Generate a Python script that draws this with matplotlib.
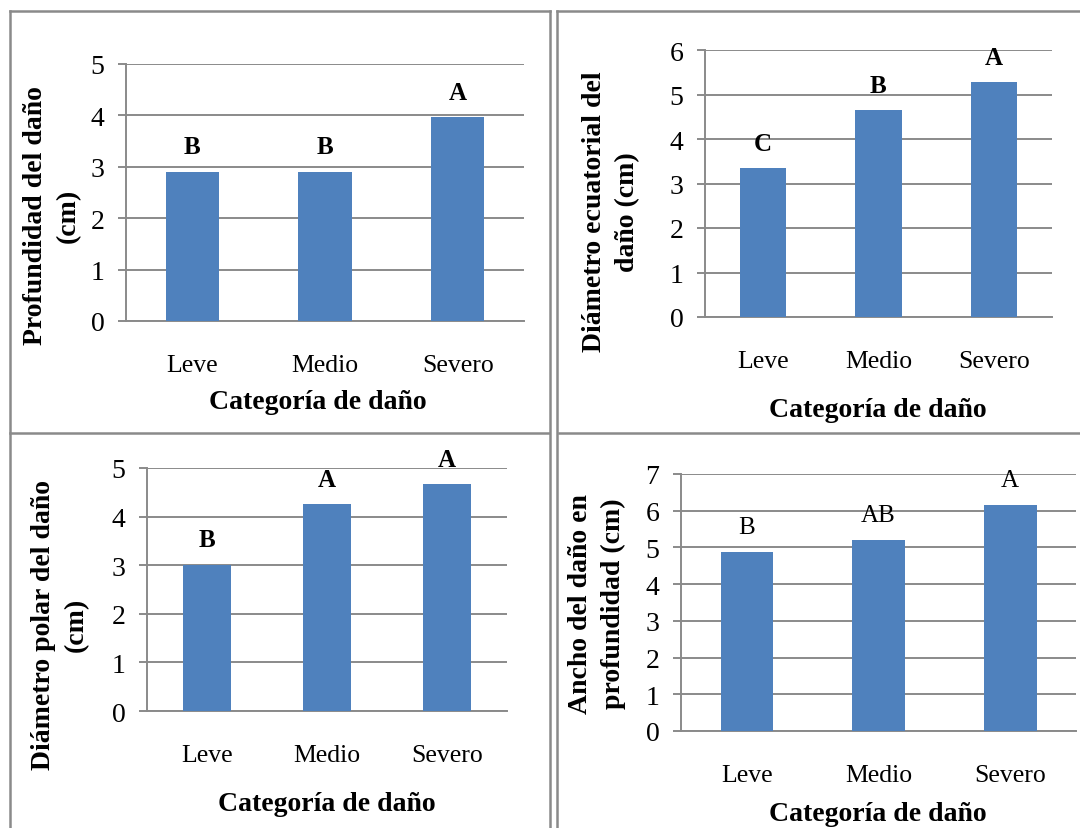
import matplotlib
matplotlib.use('Agg')
import matplotlib.pyplot as plt
from matplotlib.lines import Line2D

plt.rcParams['font.family'] = ['Liberation Serif', 'DejaVu Serif']

categorias = ['Leve', 'Medio', 'Severo']

profundidad = [2.9, 2.9, 3.96]
letras_prof = ['B', 'B', 'A']

diam_ecuatorial = [3.34, 4.65, 5.27]
letras_ecu = ['C', 'B', 'A']

diam_polar = [3.01, 4.25, 4.67]
letras_polar = ['B', 'A', 'A']

ancho = [4.87, 5.19, 6.16]
letras_ancho = ['B', 'AB', 'A']

W, H = 1080, 829
AZUL = '#4F81BD'
GRIS = '#8A8A8A'

fig = plt.figure(figsize=(W / 100, H / 100), dpi=100)


def fx(x):
    return x / W


def fy(y):
    return 1 - y / H


def panel(caja, valores, letras, ymax, ylabel, pos_ylab, pos_xlab, negrita=True):
    # caja = (izq, arriba, der, abajo) en pixeles
    l, t, r, b = caja
    ax = fig.add_axes([fx(l), fy(b), (r - l) / W, (b - t) / H])
    x = list(range(len(categorias)))
    ax.bar(x, valores, width=0.4, color=AZUL, zorder=3)
    ax.set_xlim(-0.5, 2.5)
    ax.set_ylim(0, ymax)
    ax.set_yticks(range(ymax + 1))
    ax.set_xticks(x, categorias)
    ax.yaxis.grid(True, color=GRIS, lw=1.4)
    ax.set_axisbelow(True)
    for s in ['top', 'right']:
        ax.spines[s].set_visible(False)
    for s in ['left', 'bottom']:
        ax.spines[s].set_color(GRIS)
        ax.spines[s].set_linewidth(1.4)
    ax.tick_params(axis='y', length=5.5, color=GRIS, width=1.4, pad=10, labelsize=20)
    ax.tick_params(axis='x', length=0, pad=24, labelsize=18.5)
    for xi, v, let in zip(x, valores, letras):
        ax.annotate(let, (xi, v), xytext=(0, 18), textcoords='offset points',
                    ha='center', va='center', fontsize=18,
                    fontweight='bold' if negrita else 'normal')
    fig.text(fx(pos_ylab[0]), fy(pos_ylab[1]), ylabel, rotation=90, ha='center',
             va='center', fontsize=20, fontweight='bold', linespacing=1.45)
    fig.text(fx(pos_xlab[0]), fy(pos_xlab[1]), 'Categoría de daño', ha='center',
             va='center', fontsize=20, fontweight='bold')
    return ax


panel((126, 65, 524, 322), profundidad, letras_prof, 5,
      'Profundidad del daño\n(cm)', (52, 216), (318, 403))
panel((705, 51, 1052, 318), diam_ecuatorial, letras_ecu, 6,
      'Diámetro ecuatorial del\ndaño (cm)', (611, 212), (878, 411))
panel((147, 469, 507, 712), diam_polar, letras_polar, 5,
      'Diámetro polar del daño\n(cm)', (60, 625), (327, 805))
panel((681, 475, 1076, 732), ancho, letras_ancho, 7,
      'Ancho del daño en\nprofundidad (cm)', (597, 604), (878, 815), negrita=False)

# marco de la tabla que contiene los cuatro graficos
marco = [
    ((10, 10), (12, 829)),
    ((10, 550), (12, 12)),
    ((557, 1080), (12, 12)),
    ((550, 550), (12, 829)),
    ((557, 557), (12, 829)),
    ((10, 549), (434, 434)),
    ((559, 1080), (434, 434)),
]
for xs, ys in marco:
    fig.add_artist(Line2D([fx(v) for v in xs], [fy(v) for v in ys],
                          color=GRIS, lw=1.8, transform=fig.transFigure))

fig.savefig('out.png', dpi=100)
